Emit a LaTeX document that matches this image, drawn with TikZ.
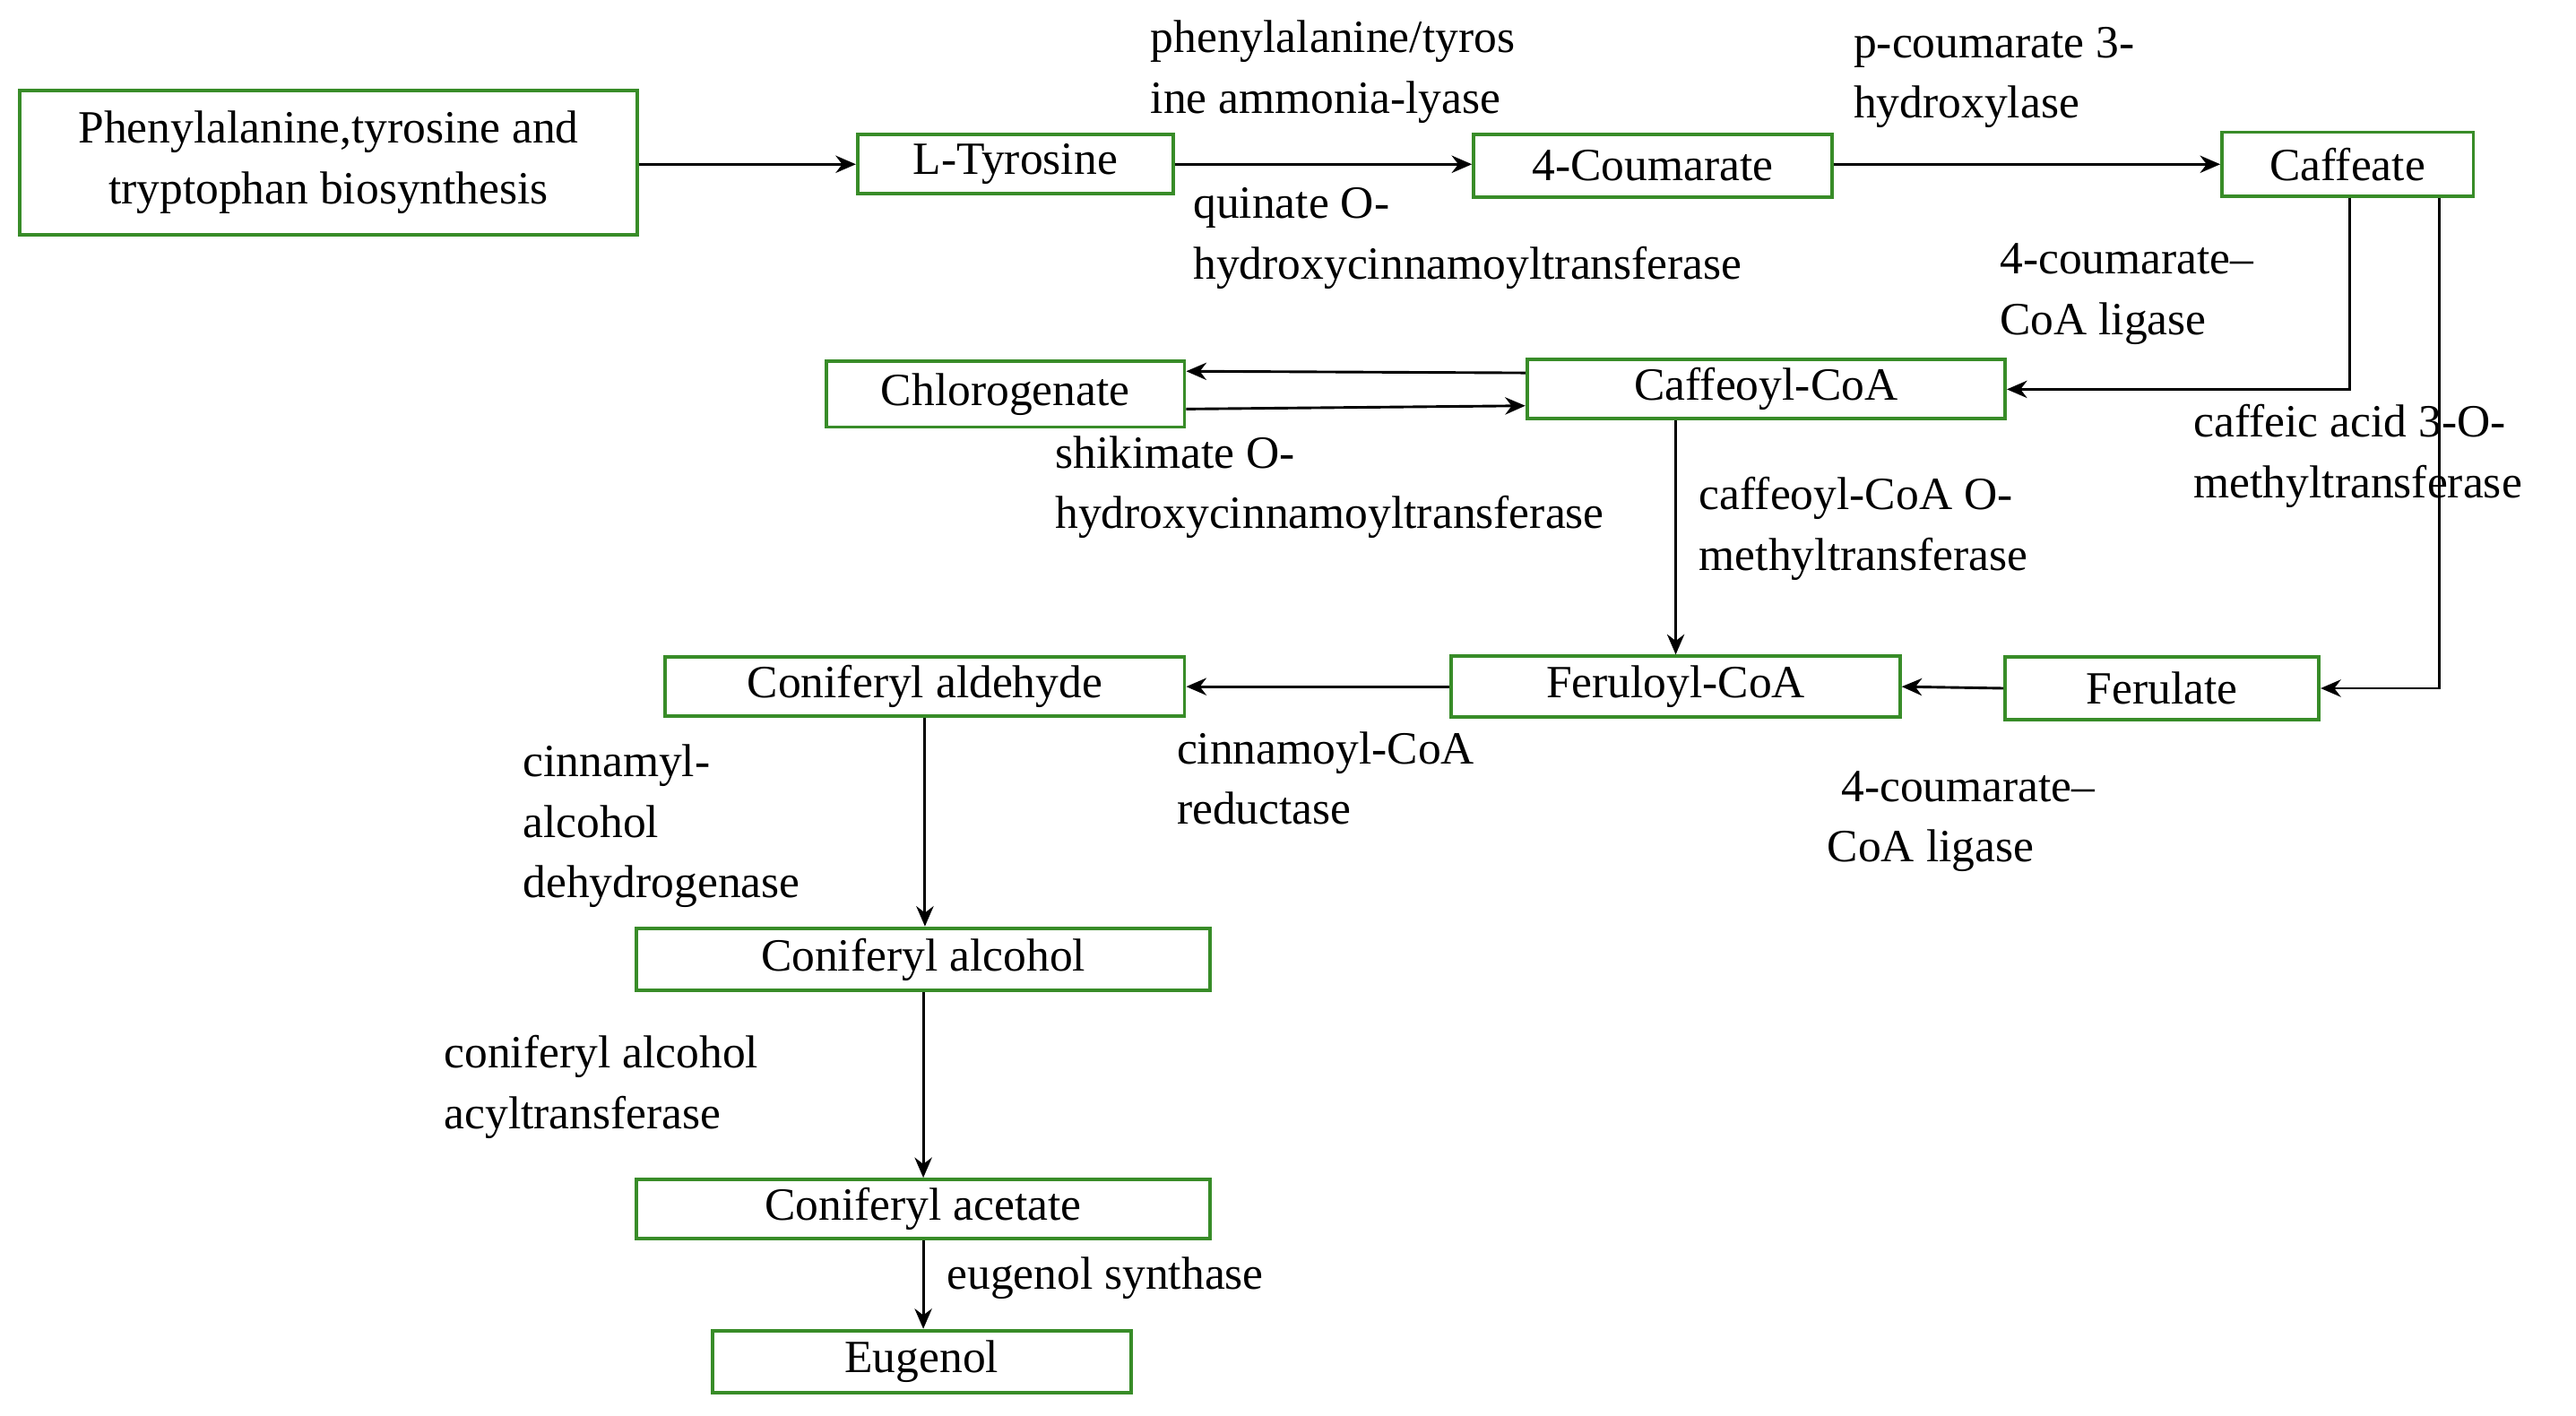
\documentclass[tikz,border=0pt]{standalone}
\usepackage{fontspec}
\setmainfont{Liberation Serif}
\usetikzlibrary{arrows.meta}
\definecolor{bgreen}{RGB}{56,140,40}
\begin{document}
\begin{tikzpicture}[x=0.02cm,y=-0.02cm,
  box/.style={draw=bgreen,line width=1.2pt,inner sep=0pt,font=\fontsize{16}{21}\selectfont,align=center},
  lab/.style={anchor=north west,inner sep=0pt,align=left,font=\fontsize{16}{21}\selectfont},
  arr/.style={-{Stealth[length=7pt,width=6pt]},line width=0.9pt}]
\useasboundingbox (0,0) rectangle (1568,862);
\newcommand\bx[6]{\node[box,minimum width=#4*0.02cm,minimum height=#5*0.02cm] (#1) at (#2,#3) {#6};}
\bx{P}{200}{99}{376}{88}{Phenylalanine,tyrosine and\\tryptophan biosynthesis}
\bx{LT}{618}{100}{192}{36}{L-Tyrosine}
\bx{C4}{1006}{101}{218}{38}{4-Coumarate}
\bx{CF}{1429}{100}{153}{39}{Caffeate}
\bx{CH}{612}{240}{218}{40}{Chlorogenate}
\bx{CC}{1075}{237}{291}{36}{Caffeoyl-CoA}
\bx{CA}{563}{418}{316}{36}{Coniferyl aldehyde}
\bx{FC}{1020}{418}{273}{37}{Feruloyl-CoA}
\bx{FE}{1316}{419}{191}{38}{Ferulate}
\bx{CL}{562}{584}{349}{38}{Coniferyl alcohol}
\bx{CE}{562}{736}{349}{36}{Coniferyl acetate}
\bx{EU}{561}{829}{255}{38}{Eugenol}
\draw[arr] (P.east|-0,100) -- (LT.west|-0,100);
\draw[arr] (LT.east|-0,100) -- (C4.west|-0,100);
\draw[arr] (C4.east|-0,100) -- (CF.west|-0,100);
\draw[arr] (CF.south-|1430,0) |- (CC.east);
\draw[arr] (CF.south-|1485,0) |- (FE.east);
\draw[arr] (CC.west|-0,227) -- (CH.east|-0,226);
\draw[arr] (CH.east|-0,249) -- (CC.west|-0,247);
\draw[arr] (CC.south-|1020,0) -- (FC.north);
\draw[arr] (FE.west) -- (FC.east);
\draw[arr] (FC.west) -- (CA.east);
\draw[arr] (CA.south) -- (CL.north-|CA.south);
\draw[arr] (CL.south) -- (CE.north);
\draw[arr] (CE.south) -- (EU.north-|CE.south);
\node[lab] (l1) at (700,12) {phenylalanine/tyros\\ine ammonia-lyase};
\node[lab] (l2) at (1128,16) {p-coumarate 3-\\hydroxylase};
\node[lab] (l3) at (726,114) {quinate O-\\hydroxycinnamoyltransferase};
\node[lab] (l4) at (1217,148) {4-coumarate--\\CoA ligase};
\node[lab] (l5) at (1335,246) {caffeic acid 3-O-\\methyltransferase};
\node[lab] (l6) at (642,265) {shikimate O-\\hydroxycinnamoyltransferase};
\node[lab] (l7) at (1034,290) {caffeoyl-CoA O-\\methyltransferase};
\node[lab] (l8) at (716,445) {cinnamoyl-CoA\\reductase};
\node[lab] (l9) at (1112,469) {\hspace*{12\pgflinewidth}4-coumarate--\\CoA ligase};
\node[lab] (l10) at (318,453) {cinnamyl-\\alcohol\\dehydrogenase};
\node[lab] (l11) at (270,630) {coniferyl alcohol\\acyltransferase};
\node[lab] (l12) at (576,765) {eugenol synthase};
\end{tikzpicture}
\end{document}
